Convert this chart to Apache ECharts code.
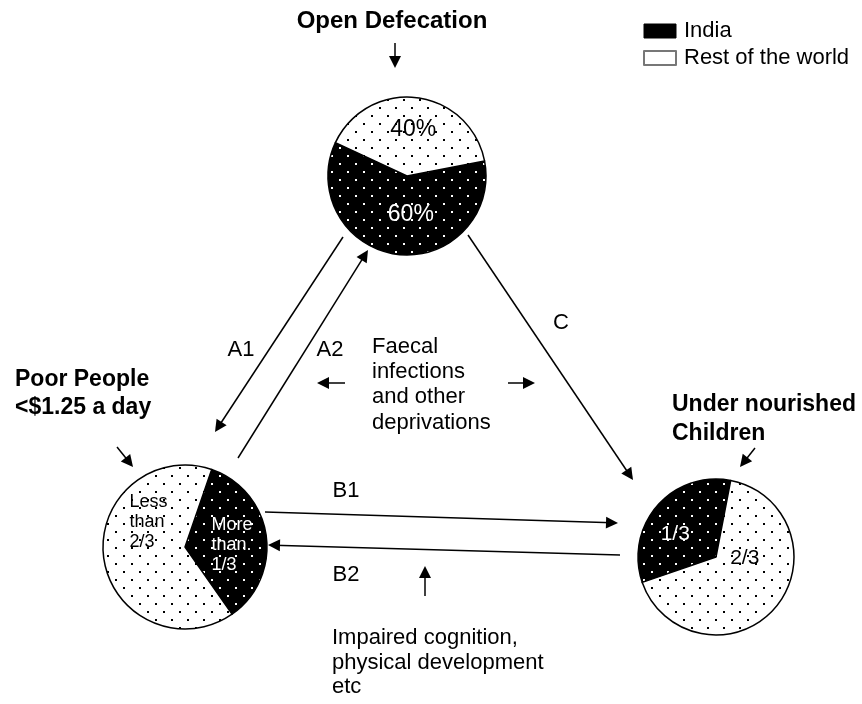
<!DOCTYPE html>
<html>
<head>
<meta charset="utf-8">
<title>India share of open defecation, poverty and under nourishment</title>
<style>
html, body { margin: 0; padding: 0; background: #fff; }
#container { width: 862px; height: 704px; }
</style>
</head>
<body>
<div id="container"></div>
<script src="https://cdn.jsdelivr.net/npm/echarts@6/dist/echarts.min.js"></script>
<script>
    // ---- data (India first, then rest of the world) ----
    var groupNames = ['India', 'Rest of the world'];
    var openDefecation = [60, 40];
    var poorPeople = [35, 65];
    var underNourished = [33.3, 66.7];
    var openLabels = ['60%', '40%'];
    var poorLabels = ['More\nthan.\n1/3', 'Less\nthan\n2/3'];
    var underLabels = ['1/3', '2/3'];

    // ---- layout ----
    var FONT = '"Liberation Sans", Arial, sans-serif';
    var W = 862, H = 704;

    // arrow tips are the second point
    var arrowPaths = [
        [[395, 43], [395, 68]],      // under Open Defecation title
        [[343, 237], [215, 432]],    // A1
        [[238, 458], [368, 250]],    // A2
        [[468, 235], [633, 480]],    // C
        [[265, 512], [618, 523]],    // B1
        [[620, 555], [268, 545]],    // B2
        [[345, 383], [317, 383]],    // faecal left
        [[508, 383], [535, 383]],    // faecal right
        [[425, 596], [425, 566]],    // impaired cognition up
        [[117, 447], [133, 467]],    // poor people
        [[755, 448], [740, 467]]     // under nourished
    ];

    function dotTile(bg, dot) {
        var c = document.createElement('canvas');
        c.width = 16; c.height = 16;
        var ctx = c.getContext('2d');
        ctx.fillStyle = bg;
        ctx.fillRect(0, 0, 16, 16);
        ctx.fillStyle = dot;
        ctx.fillRect(3, 3, 2, 2);
        ctx.fillRect(11, 11, 2, 2);
        return c;
    }
    var darkFill = { image: dotTile('#000', '#fff'), repeat: 'repeat' };
    var lightFill = { image: dotTile('#fff', '#000'), repeat: 'repeat' };

    // nudges move the inside labels to where the picture has them
    function pieSeries(values, labels, center, radius, startAngle, fontSize, lineHeight, nudges) {
        return {
            type: 'pie',
            center: center,
            radius: radius,
            startAngle: startAngle,
            clockwise: true,
            silent: true,
            animation: false,
            itemStyle: { borderColor: '#000', borderWidth: 1.5 },
            label: {
                show: true,
                position: 'inside',
                fontFamily: FONT,
                fontSize: fontSize,
                lineHeight: lineHeight
            },
            labelLine: { show: false },
            labelLayout: function (params) {
                return nudges[params.dataIndex];
            },
            emphasis: { disabled: true },
            data: values.map(function (v, i) {
                return {
                    name: groupNames[i],
                    value: v,
                    itemStyle: { color: i === 0 ? darkFill : lightFill },
                    label: {
                        formatter: labels[i],
                        color: i === 0 ? '#fff' : '#000'
                    }
                };
            })
        };
    }

    // shorten each arrow so the head's tip lands on the typed point
    var HEAD = 12;
    var arrowData = arrowPaths.map(function (p) {
        var dx = p[1][0] - p[0][0], dy = p[1][1] - p[0][1];
        var len = Math.sqrt(dx * dx + dy * dy);
        var end = [p[1][0] - dx / len * HEAD / 2, p[1][1] - dy / len * HEAD / 2];
        return { coords: [p[0], end] };
    });

    function txt(text, x, y, opt) {
        return {
            type: 'text',
            silent: true,
            style: {
                text: text,
                x: x,
                y: y,
                font: opt.font,
                fill: '#000',
                align: opt.align || 'left',
                verticalAlign: opt.va || 'middle',
                lineHeight: opt.lh
            }
        };
    }
    var bold = 'bold 23px ' + FONT;
    var reg = '22px ' + FONT;

    var option = {
        backgroundColor: '#fff',
        animation: false,
        grid: { left: 0, right: 0, top: 0, bottom: 0 },
        xAxis: { type: 'value', min: 0, max: W, show: false },
        yAxis: { type: 'value', min: 0, max: H, inverse: true, show: false },
        legend: {
            orient: 'vertical',
            left: 643,
            top: 20,
            padding: 0,
            itemWidth: 32,
            itemHeight: 14,
            itemGap: 5,
            icon: 'rect',
            selectedMode: false,
            textStyle: { fontFamily: FONT, fontSize: 22, color: '#000', padding: [0, 0, 0, 3] },
            data: [
                { name: groupNames[0], itemStyle: { color: '#000', borderColor: '#000', borderWidth: 1 } },
                { name: groupNames[1], itemStyle: { color: '#fff', borderColor: '#777', borderWidth: 2 } }
            ]
        },
        graphic: [
            txt('Open Defecation', 392, 21, { font: 'bold 24px ' + FONT, align: 'center' }),
            txt('Poor People\n<$1.25 a day', 15, 366, { font: bold, va: 'top', lh: 28 }),
            txt('Under nourished\nChildren', 672, 390, { font: bold, va: 'top', lh: 29 }),
            txt('A1', 241, 350, { font: reg, align: 'center' }),
            txt('A2', 330, 350, { font: reg, align: 'center' }),
            txt('C', 561, 323, { font: reg, align: 'center' }),
            txt('B1', 346, 491, { font: reg, align: 'center' }),
            txt('B2', 346, 575, { font: reg, align: 'center' }),
            txt('Faecal\ninfections\nand other\ndeprivations', 372, 334, { font: reg, va: 'top', lh: 25.3 }),
            txt('Impaired cognition,\nphysical development\netc', 332, 626, { font: reg, va: 'top', lh: 24.5 })
        ],
        series: [
            pieSeries(openDefecation, openLabels, [407, 176], 79, 11, 23, 26,
                [{ dx: 9, dy: -4 }, { dx: 1, dy: -4 }]),
            pieSeries(poorPeople, poorLabels, [185, 547], 82, 71, 18, 20,
                [{ dx: -17, dy: 4, align: 'left' }, { dx: -12, dy: -31, align: 'left' }]),
            pieSeries(underNourished, underLabels, [716, 557], 78, 199, 21, 24,
                [{ dx: -9, dy: 5 }, { dx: -3, dy: -26 }]),
            {
                type: 'lines',
                coordinateSystem: 'cartesian2d',
                silent: true,
                animation: false,
                symbol: ['none', 'path://M5,0L10,13L0,13Z'],
                symbolSize: HEAD,
                lineStyle: { color: '#000', width: 1.5, opacity: 1, curveness: 0 },
                data: arrowData
            }
        ]
    };

    var myChart = echarts.init(document.getElementById('container'));
    myChart.setOption(option, true);
</script>
</body>
</html>
